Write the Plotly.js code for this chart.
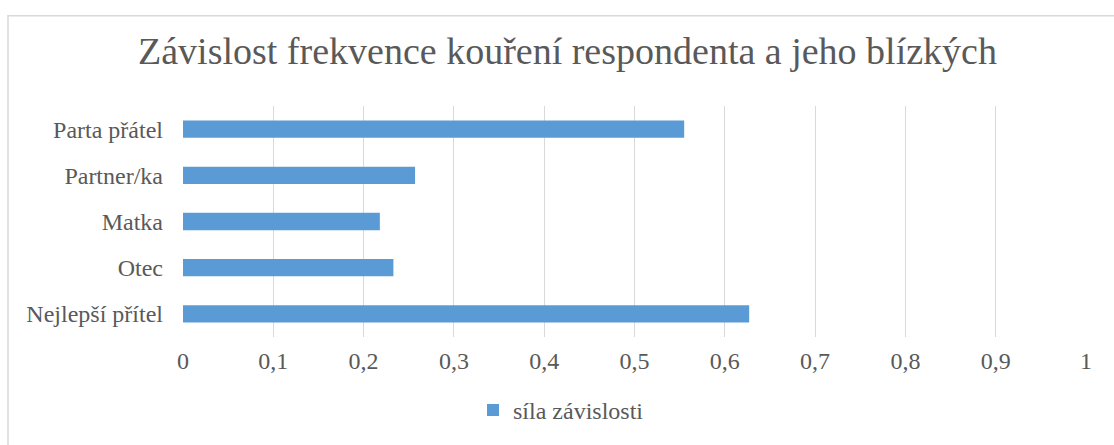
<!DOCTYPE html>
<html>
<head>
<meta charset="utf-8">
<script src="https://cdn.plot.ly/plotly-3.0.1.min.js"></script>
<style>
  html, body { margin: 0; padding: 0; background: #ffffff; }
  #chart { width: 1114px; height: 445px; }
</style>
</head>
<body>
<div id="chart"></div>
<script>
const categories = ["Nejlepší přítel", "Otec", "Matka", "Partner/ka", "Parta přátel"];
const values = [0.627, 0.233, 0.218, 0.257, 0.555];
const seriesName = "síla závislosti";
const tickValues = [0, 0.1, 0.2, 0.3, 0.4, 0.5, 0.6, 0.7, 0.8, 0.9, 1];
const tickLabels = ["0", "0,1", "0,2", "0,3", "0,4", "0,5", "0,6", "0,7", "0,8", "0,9", "1"];
const chartTitle = "Závislost frekvence kouření respondenta a jeho blízkých";

const font = "Liberation Serif";
const textColor = "#595959";

const trace = {
  type: "bar",
  orientation: "h",
  y: categories,
  x: values,
  name: seriesName,
  marker: { color: "#5b9bd5", line: { width: 0 } },
  hoverinfo: "x+y"
};

const layout = {
  width: 1114,
  height: 445,
  margin: { l: 183, r: 28, t: 106, b: 93 },
  paper_bgcolor: "#ffffff",
  plot_bgcolor: "#ffffff",
  font: { family: font, color: textColor, size: 24 },
  title: {
    text: chartTitle,
    font: { family: font, size: 38, color: textColor },
    x: 567.5 / 1114, xanchor: "center",
    y: 1 - 50.5 / 445, yanchor: "middle", yref: "container"
  },
  bargap: 0.625,
  showlegend: true,
  legend: {
    orientation: "h",
    x: (473 - 183) / 903, xanchor: "left",
    y: -0.22, yanchor: "top",
    font: { family: font, size: 24, color: textColor },
    itemwidth: 30
  },
  xaxis: {
    range: [0, 1],
    tickvals: tickValues,
    ticktext: tickLabels,
    showgrid: true,
    gridcolor: "#d9d9d9",
    gridwidth: 1,
    zeroline: false,
    showline: false,
    ticks: "",
    ticklabelstandoff: 7,
    tickfont: { family: font, size: 24, color: textColor },
    fixedrange: true
  },
  yaxis: {
    type: "category",
    categoryorder: "array",
    categoryarray: categories,
    showgrid: false,
    zeroline: false,
    showline: false,
    ticks: "",
    ticklabelstandoff: 19,
    tickfont: { family: font, size: 24, color: textColor },
    fixedrange: true
  },
  shapes: [
    {
      type: "rect", xref: "paper", yref: "paper",
      x0: (8 - 183) / 903, x1: 1.3,
      y0: -0.6, y1: (352 - 10) / 246,
      line: { color: "#d9d9d9", width: 1.5 },
      fillcolor: "rgba(0,0,0,0)",
      layer: "below"
    }
  ]
};

Plotly.newPlot("chart", [trace], layout, { displayModeBar: false, staticPlot: true });
</script>
</body>
</html>
